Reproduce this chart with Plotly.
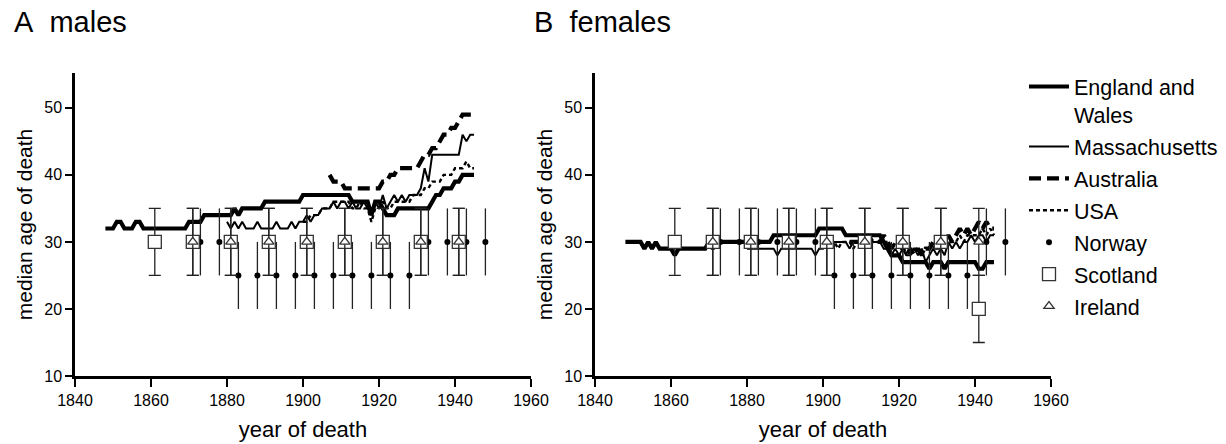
import plotly.graph_objects as go

# ---------------- data ----------------
years_ew = list(range(1848, 1946))
male_ew = [32, 32, 32, 33, 33, 32, 32, 32, 33, 33, 32, 32,   # 1848-1859
           32, 32, 32, 32, 32, 32, 32, 32, 32, 32,           # 1860-1869
           33, 33, 33, 33, 34, 34, 34, 34, 34, 34,           # 1870-1879
           34, 34, 35, 34, 35, 35, 35, 35, 35, 35,           # 1880-1889
           36, 36, 36, 36, 36, 36, 36, 36, 36, 36,           # 1890-1899
           37, 37, 37, 37, 37, 37, 37, 37, 37, 37,           # 1900-1909
           37, 37, 37, 36, 36, 36, 36, 36, 34, 36,           # 1910-1919
           36, 35, 34, 34, 34, 35, 35, 35, 35, 35,           # 1920-1929
           35, 35, 35, 35, 36, 37, 37, 38, 38, 38,           # 1930-1939
           39, 39, 40, 40, 40, 40]                           # 1940-1945
female_ew = [30, 30, 30, 30, 30, 29, 30, 29, 30, 29, 29, 29,  # 1848-1859
             29, 28, 29, 29, 29, 29, 29, 29, 29, 29,          # 1860-1869
             30, 29, 30, 30, 30, 30, 30, 30, 30, 30,          # 1870-1879
             30, 30, 30, 30, 30, 30, 30, 31, 31, 31,          # 1880-1889
             31, 31, 31, 31, 31, 31, 31, 31, 31, 32,          # 1890-1899
             32, 32, 32, 32, 32, 32, 31, 31, 31, 31,          # 1900-1909
             31, 31, 31, 31, 31, 31, 30, 29, 28, 28,          # 1910-1919
             28, 27, 27, 27, 27, 27, 27, 27, 26, 27,          # 1920-1929
             27, 27, 26, 27, 27, 27, 27, 27, 27, 27,          # 1930-1939
             27, 26, 26, 27, 27, 27]                          # 1940-1945

years_ma = list(range(1880, 1946))
male_ma = [33, 32, 33, 32, 33, 32, 32, 32, 33, 32,            # 1880-1889
           32, 32, 32, 33, 32, 32, 32, 33, 32, 33,            # 1890-1899
           33, 34, 33, 34, 34, 35, 35, 35, 36, 35,            # 1900-1909
           36, 36, 35, 36, 35, 35, 36, 35, 34, 36,            # 1910-1919
           35, 37, 35, 36, 37, 36, 37, 36, 37, 37,            # 1920-1929
           37, 38, 41, 39, 43, 43, 43, 43, 43, 43,            # 1930-1939
           43, 43, 46, 45, 46, 46]                            # 1940-1945
female_ma = [29, 29, 29, 29, 29, 29, 29, 29, 28, 29,          # 1880-1889
             29, 29, 29, 29, 29, 29, 29, 29, 28, 29,          # 1890-1899
             29, 30, 29, 30, 30, 30, 30, 29, 30, 30,          # 1900-1909
             30, 30, 30, 30, 30, 30, 29, 29, 28, 29,          # 1910-1919
             28, 29, 28, 28, 29, 28, 29, 27, 28, 29,          # 1920-1929
             28, 29, 28, 30, 29, 30, 29, 30, 30, 31,          # 1930-1939
             30, 31, 31, 30, 31, 31]                          # 1940-1945

years_au = list(range(1907, 1946))
male_au = [40, 39, 39, 39, 38, 38, 38, 38, 38, 38, 38, 38, 38,   # 1907-1919
           38, 39, 39, 40, 40, 41, 41, 41, 41, 41, 41,           # 1920-1930
           42, 43, 43, 44, 44, 45, 46, 46, 47, 47, 48, 49, 49, 49, 49]  # 1931-1945
female_au = [30, 30, 30, 30, 30, 31, 30, 30, 30, 31, 30, 29, 30,  # 1907-1919
             30, 29, 28, 29, 28, 29, 28, 29, 29, 30, 29,          # 1920-1930
             30, 30, 31, 30, 31, 32, 31, 32, 31, 32, 33, 32, 33, 32, 32]  # 1931-1945

years_us = list(range(1900, 1946))
male_us = [33, 33, 34, 34, 34, 35, 35, 35, 36, 36,            # 1900-1909
           36, 36, 36, 35, 35, 36, 35, 35, 33, 35,            # 1910-1919
           35, 36, 35, 35, 36, 36, 36, 36, 36, 37,            # 1920-1929
           37, 37, 38, 38, 39, 39, 39, 40, 40, 40,            # 1930-1939
           41, 41, 41, 42, 41, 41]                            # 1940-1945
female_us = [30, 30, 29, 30, 29, 30, 30, 30, 29, 30,          # 1900-1909
             30, 30, 30, 30, 30, 30, 30, 30, 29, 30,          # 1910-1919
             29, 29, 28, 29, 29, 29, 28, 29, 29, 29,          # 1920-1929
             30, 29, 30, 30, 30, 30, 31, 30, 31, 31,          # 1930-1939
             31, 31, 32, 31, 32, 31]                          # 1940-1945

years_no = [1873, 1878, 1883, 1888, 1893, 1898, 1903, 1908, 1913, 1918,
            1923, 1928, 1933, 1938, 1943, 1948]
male_no = [30, 30, 25, 25, 25, 25, 25, 25, 25, 25, 25, 25, 30, 30, 30, 30]
female_no = [30, 30, 30, 30, 30, 30, 25, 25, 25, 25, 25, 25, 25, 25, 30, 30]

years_sc = [1861, 1871, 1881, 1891, 1901, 1911, 1921, 1931, 1941]
male_sc = [30, 30, 30, 30, 30, 30, 30, 30, 30]
female_sc = [30, 30, 30, 30, 30, 30, 30, 30, 20]

years_ie = [1871, 1881, 1891, 1901, 1911, 1921, 1931, 1941]
male_ie = [30, 30, 30, 30, 30, 30, 30, 30]
female_ie = [30, 30, 30, 30, 30, 30, 30, 30]

err_half = 5  # half-range of the error bars (years of age)

x_ticks = [1840, 1860, 1880, 1900, 1920, 1940, 1960]
y_ticks = [10, 20, 30, 40, 50]

# ---------------- figure ----------------
FONT = "Liberation Sans, Arial, sans-serif"
fig = go.Figure()

line_specs = [
    ("England and<br>Wales", years_ew, male_ew, female_ew, dict(width=4.2, dash="solid")),
    ("Massachusetts", years_ma, male_ma, female_ma, dict(width=2, dash="solid")),
    ("Australia", years_au, male_au, female_au, dict(width=4.2, dash="12px,6px")),
    ("USA", years_us, male_us, female_us, dict(width=2.4, dash="4px,3px")),
]

for i, (name, yrs, mv, fv, ls) in enumerate(line_specs):
    for panel, vals in ((1, mv), (2, fv)):
        fig.add_trace(go.Scatter(
            x=yrs, y=vals, mode="lines", name=name,
            line=dict(color="black", **ls),
            xaxis="x" if panel == 1 else "x2",
            yaxis="y" if panel == 1 else "y2",
            showlegend=(panel == 1), legendgroup=name,
        ))

point_specs = [
    ("Norway", years_no, male_no, female_no,
     dict(symbol="circle", size=6, color="black"), 0),
    ("Scotland", years_sc, male_sc, female_sc,
     dict(symbol="square", size=13, color="white", line=dict(color="#333", width=1.3)), 6),
    ("Ireland", years_ie, male_ie, female_ie,
     dict(symbol="triangle-up", size=9, color="white", line=dict(color="#333", width=1.3)), 6),
]

for name, yrs, mv, fv, mk, capw in point_specs:
    for panel, vals in ((1, mv), (2, fv)):
        fig.add_trace(go.Scatter(
            x=yrs, y=vals, mode="markers", name=name,
            marker=mk,
            error_y=dict(type="constant", value=err_half, color="#222",
                         thickness=1.3, width=capw),
            xaxis="x" if panel == 1 else "x2",
            yaxis="y" if panel == 1 else "y2",
            showlegend=(panel == 1), legendgroup=name,
        ))

W, H = 1226, 444
xa = dict(range=[1840, 1960], tickvals=x_ticks, ticks="outside", ticklen=8,
          tickwidth=2, tickcolor="black", showline=True, linewidth=2.5,
          linecolor="black", showgrid=False, zeroline=False, automargin=False,
          tickfont=dict(family=FONT, size=16, color="black"),
          title=dict(text="year of death", font=dict(family=FONT, size=22, color="black"),
                     standoff=14))
ya = dict(range=[10, 55.2], tickvals=y_ticks, ticks="outside", ticklen=7,
          tickwidth=2, tickcolor="black", showline=True, linewidth=2.5,
          linecolor="black", showgrid=False, zeroline=False, automargin=False,
          tickfont=dict(family=FONT, size=16, color="black"),
          title=dict(text="median age of death", font=dict(family=FONT, size=21, color="black"),
                     standoff=6))

y_dom = [1 - 376 / H, 1 - 73 / H]
fig.update_layout(
    width=W, height=H,
    margin=dict(l=0, r=0, t=0, b=0, autoexpand=False),
    paper_bgcolor="white", plot_bgcolor="white",
    font=dict(family=FONT, color="black"),
    xaxis=dict(domain=[75 / W, 531 / W], anchor="y", **xa),
    yaxis=dict(domain=y_dom, anchor="x", **ya),
    xaxis2=dict(domain=[595 / W, 1051 / W], anchor="y2", **xa),
    yaxis2=dict(domain=y_dom, anchor="x2", **ya),
    legend=dict(x=1024 / W, y=1 - 66 / H, xanchor="left", yanchor="top",
                font=dict(family=FONT, size=21.5, color="black"),
                valign="top", tracegroupgap=1, itemwidth=40,
                bgcolor="rgba(0,0,0,0)"),
    annotations=[
        dict(text="A\u00a0\u00a0males", x=12 / W, y=1 - 22 / H, xref="paper", yref="paper",
             xanchor="left", yanchor="middle", showarrow=False,
             font=dict(family=FONT, size=29, color="black")),
        dict(text="B\u00a0\u00a0females", x=532 / W, y=1 - 22 / H, xref="paper", yref="paper",
             xanchor="left", yanchor="middle", showarrow=False,
             font=dict(family=FONT, size=29, color="black")),
    ],
)

fig.write_html("out.html")
